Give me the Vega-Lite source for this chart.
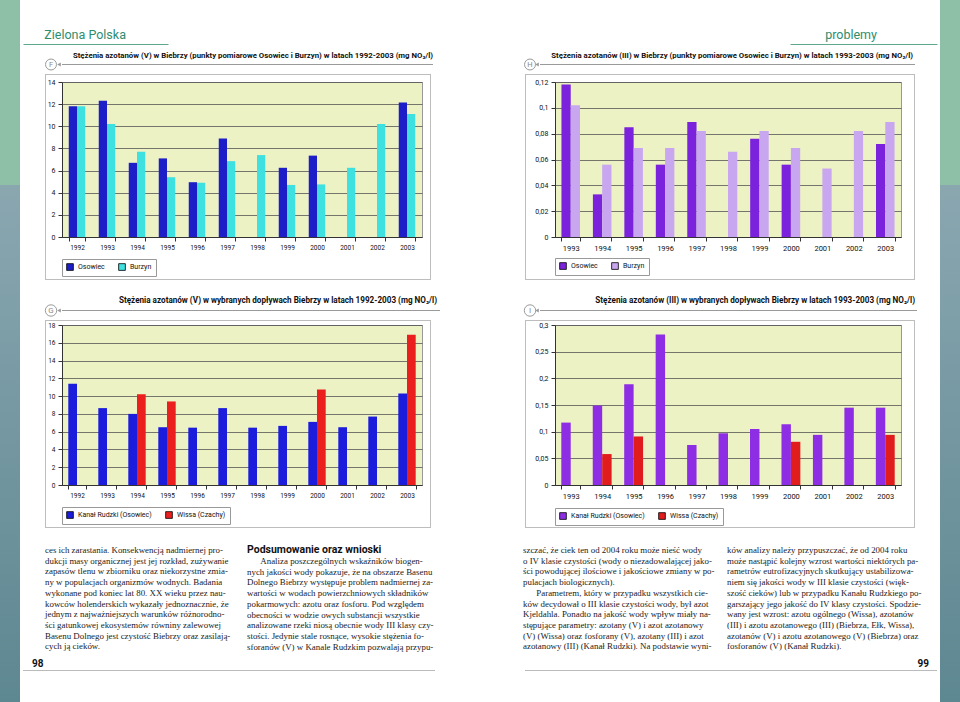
{
"$schema": "https://vega.github.io/schema/vega-lite/v6.json",
"padding": 0,
"background": "#ffffff",
"columns": 25,
"spacing": 0,
"align": "none",
"bounds": "flush",
"resolve": {"scale": {"color": "independent", "xOffset": "independent"}, "legend": {"color": "independent"}},
"config": {
 "view": {"stroke": null},
 "font": "Roboto",
 "axis": {"labelFont": "Roboto", "labelColor": "#111111", "domainColor": "#333333", "tickColor": "#333333", "tickSize": 4, "labelPadding": 3},
 "legend": {"symbolType": "square", "symbolSize": 45, "symbolStrokeColor": "#000000", "symbolStrokeWidth": 0.8, "labelFontSize": 7, "labelFont": "Roboto", "labelColor": "#111111", "strokeColor": "#999999", "padding": 4, "columnPadding": 12, "labelLimit": 300},
 "title": {"font": "Roboto", "color": "#111111", "fontWeight": "bold"}
},
"datasets": {
 "F": [
  {"year":1992,"station":"Osowiec","value":11.8},{"year":1992,"station":"Burzyn","value":11.8},
  {"year":1993,"station":"Osowiec","value":12.3},{"year":1993,"station":"Burzyn","value":10.2},
  {"year":1994,"station":"Osowiec","value":6.7},{"year":1994,"station":"Burzyn","value":7.7},
  {"year":1995,"station":"Osowiec","value":7.1},{"year":1995,"station":"Burzyn","value":5.4},
  {"year":1996,"station":"Osowiec","value":4.95},{"year":1996,"station":"Burzyn","value":4.9},
  {"year":1997,"station":"Osowiec","value":8.9},{"year":1997,"station":"Burzyn","value":6.85},
  {"year":1998,"station":"Burzyn","value":7.4},
  {"year":1999,"station":"Osowiec","value":6.25},{"year":1999,"station":"Burzyn","value":4.7},
  {"year":2000,"station":"Osowiec","value":7.35},{"year":2000,"station":"Burzyn","value":4.75},
  {"year":2001,"station":"Burzyn","value":6.25},
  {"year":2002,"station":"Burzyn","value":10.2},
  {"year":2003,"station":"Osowiec","value":12.15},{"year":2003,"station":"Burzyn","value":11.1}
 ],
 "H": [
  {"year":1993,"station":"Osowiec","value":0.118},{"year":1993,"station":"Burzyn","value":0.102},
  {"year":1994,"station":"Osowiec","value":0.033},{"year":1994,"station":"Burzyn","value":0.056},
  {"year":1995,"station":"Osowiec","value":0.085},{"year":1995,"station":"Burzyn","value":0.069},
  {"year":1996,"station":"Osowiec","value":0.056},{"year":1996,"station":"Burzyn","value":0.069},
  {"year":1997,"station":"Osowiec","value":0.089},{"year":1997,"station":"Burzyn","value":0.082},
  {"year":1998,"station":"Burzyn","value":0.066},
  {"year":1999,"station":"Osowiec","value":0.076},{"year":1999,"station":"Burzyn","value":0.082},
  {"year":2000,"station":"Osowiec","value":0.056},{"year":2000,"station":"Burzyn","value":0.069},
  {"year":2001,"station":"Burzyn","value":0.053},
  {"year":2002,"station":"Burzyn","value":0.082},
  {"year":2003,"station":"Osowiec","value":0.072},{"year":2003,"station":"Burzyn","value":0.089}
 ],
 "G": [
  {"year":1992,"station":"Kanał Rudzki (Osowiec)","value":11.4},
  {"year":1993,"station":"Kanał Rudzki (Osowiec)","value":8.65},
  {"year":1994,"station":"Kanał Rudzki (Osowiec)","value":8.0},{"year":1994,"station":"Wissa (Czachy)","value":10.2},
  {"year":1995,"station":"Kanał Rudzki (Osowiec)","value":6.5},{"year":1995,"station":"Wissa (Czachy)","value":9.4},
  {"year":1996,"station":"Kanał Rudzki (Osowiec)","value":6.45},
  {"year":1997,"station":"Kanał Rudzki (Osowiec)","value":8.65},
  {"year":1998,"station":"Kanał Rudzki (Osowiec)","value":6.45},
  {"year":1999,"station":"Kanał Rudzki (Osowiec)","value":6.65},
  {"year":2000,"station":"Kanał Rudzki (Osowiec)","value":7.1},{"year":2000,"station":"Wissa (Czachy)","value":10.75},
  {"year":2001,"station":"Kanał Rudzki (Osowiec)","value":6.5},
  {"year":2002,"station":"Kanał Rudzki (Osowiec)","value":7.7},
  {"year":2003,"station":"Kanał Rudzki (Osowiec)","value":10.3},{"year":2003,"station":"Wissa (Czachy)","value":16.9}
 ],
 "I": [
  {"year":1993,"station":"Kanał Rudzki (Osowiec)","value":0.117},
  {"year":1994,"station":"Kanał Rudzki (Osowiec)","value":0.149},{"year":1994,"station":"Wissa (Czachy)","value":0.058},
  {"year":1995,"station":"Kanał Rudzki (Osowiec)","value":0.189},{"year":1995,"station":"Wissa (Czachy)","value":0.091},
  {"year":1996,"station":"Kanał Rudzki (Osowiec)","value":0.282},
  {"year":1997,"station":"Kanał Rudzki (Osowiec)","value":0.075},
  {"year":1998,"station":"Kanał Rudzki (Osowiec)","value":0.097},
  {"year":1999,"station":"Kanał Rudzki (Osowiec)","value":0.105},
  {"year":2000,"station":"Kanał Rudzki (Osowiec)","value":0.114},{"year":2000,"station":"Wissa (Czachy)","value":0.081},
  {"year":2001,"station":"Kanał Rudzki (Osowiec)","value":0.094},
  {"year":2002,"station":"Kanał Rudzki (Osowiec)","value":0.145},
  {"year":2003,"station":"Kanał Rudzki (Osowiec)","value":0.145},{"year":2003,"station":"Wissa (Czachy)","value":0.094}
 ]
},
"concat": [
{"width":20,"height":44,"data":{"values":[]},"mark":"point","view":{"fill":"#8ebfa7"}},
{"width":3,"height":44,"data":{"values":[]},"mark":"point"},
{"width":22,"height":44,"data":{"values":[]},"mark":"point"},
{"width":1,"height":44,"data":{"values":[]},"mark":"point"},
{"width":10,"height":44,"data":{"values":[]},"mark":"point"},
{"width":6,"height":44,"data":{"values":[]},"mark":"point"},
{"width":360,"height":44,"data":{"values":[]},"mark":"point"},
{"width":8,"height":44,"data":{"values":[]},"mark":"point"},
{"width":1,"height":44,"data":{"values":[]},"mark":"point"},
{"width":2,"height":44,"data":{"values":[]},"mark":"point"},
{"width":2,"height":44,"data":{"values":[]},"mark":"point"},
{"width":5,"height":44,"data":{"values":[]},"mark":"point"},
{"width":83,"height":44,"data":{"values":[]},"mark":"point"},
{"width":2,"height":44,"data":{"values":[]},"mark":"point"},
{"width":1,"height":44,"data":{"values":[]},"mark":"point"},
{"width":8,"height":44,"data":{"values":[]},"mark":"point"},
{"width":6,"height":44,"data":{"values":[]},"mark":"point"},
{"width":15,"height":44,"data":{"values":[]},"mark":"point"},
{"width":346,"height":44,"data":{"values":[]},"mark":"point"},
{"width":13,"height":44,"data":{"values":[]},"mark":"point"},
{"width":1,"height":44,"data":{"values":[]},"mark":"point"},
{"width":2,"height":44,"data":{"values":[]},"mark":"point"},
{"width":20,"height":44,"data":{"values":[]},"mark":"point"},
{"width":3,"height":44,"data":{"values":[]},"mark":"point"},
{"width":20,"height":44,"data":{"values":[]},"mark":"point","view":{"fill":"#8ebfa7"}},

{"width":20,"height":1,"data":{"values":[]},"mark":"point","view":{"fill":"#8ebfa7"}},
{"width":3,"height":1,"data":{"values":[]},"mark":"point"},
{"width":22,"height":1,"data":{"values":[{}]},"mark":{"type":"point","opacity":0},"encoding":{"x":{"datum":0,"type":"quantitative","scale":{"domain":[0,1],"range":[0,145]},"axis":{"orient":"top","labels":false,"ticks":false,"grid":false,"title":null,"domainColor":"#5ea88c","domainWidth":1.2}}},"title":{"text":"Zielona Polska","anchor":"start","dx":24,"offset":0,"fontSize":12.5,"fontWeight":"normal","color":"#2e8d6f"}},
{"width":1,"height":1,"data":{"values":[]},"mark":"point"},
{"width":10,"height":1,"data":{"values":[]},"mark":"point"},
{"width":6,"height":1,"data":{"values":[]},"mark":"point"},
{"width":360,"height":1,"data":{"values":[]},"mark":"point"},
{"width":8,"height":1,"data":{"values":[]},"mark":"point"},
{"width":1,"height":1,"data":{"values":[]},"mark":"point"},
{"width":2,"height":1,"data":{"values":[]},"mark":"point"},
{"width":2,"height":1,"data":{"values":[]},"mark":"point"},
{"width":5,"height":1,"data":{"values":[]},"mark":"point"},
{"width":83,"height":1,"data":{"values":[]},"mark":"point"},
{"width":2,"height":1,"data":{"values":[]},"mark":"point"},
{"width":1,"height":1,"data":{"values":[]},"mark":"point"},
{"width":8,"height":1,"data":{"values":[]},"mark":"point"},
{"width":6,"height":1,"data":{"values":[]},"mark":"point"},
{"width":15,"height":1,"data":{"values":[]},"mark":"point"},
{"width":346,"height":1,"data":{"values":[{}]},"mark":{"type":"point","opacity":0},"encoding":{"x":{"datum":0,"type":"quantitative","scale":{"domain":[0,1],"range":[235,382]},"axis":{"orient":"top","labels":false,"ticks":false,"grid":false,"title":null,"domainColor":"#5ea88c","domainWidth":1.2}}},"title":{"text":"problemy","anchor":"end","dx":-24,"offset":0,"fontSize":12.5,"fontWeight":"normal","color":"#2e8d6f"}},
{"width":13,"height":1,"data":{"values":[]},"mark":"point"},
{"width":1,"height":1,"data":{"values":[]},"mark":"point"},
{"width":2,"height":1,"data":{"values":[]},"mark":"point"},
{"width":20,"height":1,"data":{"values":[]},"mark":"point"},
{"width":3,"height":1,"data":{"values":[]},"mark":"point"},
{"width":20,"height":1,"data":{"values":[]},"mark":"point","view":{"fill":"#8ebfa7"}},

{"width":20,"height":19,"data":{"values":[]},"mark":"point","view":{"fill":"#8ebfa7"}},
{"width":3,"height":19,"data":{"values":[]},"mark":"point"},
{"width":22,"height":19,"data":{"values":[]},"mark":"point"},
{"width":1,"height":19,"data":{"values":[]},"mark":"point"},
{"width":10,"height":19,"data":{"values":[]},"mark":"point"},
{"width":6,"height":19,"data":{"values":[]},"mark":"point"},
{"width":360,"height":19,"data":{"values":[]},"mark":"point"},
{"width":8,"height":19,"data":{"values":[]},"mark":"point"},
{"width":1,"height":19,"data":{"values":[]},"mark":"point"},
{"width":2,"height":19,"data":{"values":[]},"mark":"point"},
{"width":2,"height":19,"data":{"values":[]},"mark":"point"},
{"width":5,"height":19,"data":{"values":[]},"mark":"point"},
{"width":83,"height":19,"data":{"values":[]},"mark":"point"},
{"width":2,"height":19,"data":{"values":[]},"mark":"point"},
{"width":1,"height":19,"data":{"values":[]},"mark":"point"},
{"width":8,"height":19,"data":{"values":[]},"mark":"point"},
{"width":6,"height":19,"data":{"values":[]},"mark":"point"},
{"width":15,"height":19,"data":{"values":[]},"mark":"point"},
{"width":346,"height":19,"data":{"values":[]},"mark":"point"},
{"width":13,"height":19,"data":{"values":[]},"mark":"point"},
{"width":1,"height":19,"data":{"values":[]},"mark":"point"},
{"width":2,"height":19,"data":{"values":[]},"mark":"point"},
{"width":20,"height":19,"data":{"values":[]},"mark":"point"},
{"width":3,"height":19,"data":{"values":[]},"mark":"point"},
{"width":20,"height":19,"data":{"values":[]},"mark":"point","view":{"fill":"#8ebfa7"}},

{"width":20,"height":1,"data":{"values":[]},"mark":"point","view":{"fill":"#8ebfa7"}},
{"width":3,"height":1,"data":{"values":[]},"mark":"point"},
{"width":22,"height":1,"data":{"values":[]},"mark":"point"},
{"width":1,"height":1,"data":{"values":[]},"mark":"point"},
{"width":10,"height":1,"data":{"values":[{"letter":"F"}]},"layer":[{"mark":{"type":"point","shape":"circle","size":120,"filled":false,"color":"#9a9a9a","strokeWidth":1,"opacity":1},"encoding":{}},{"mark":{"type":"text","fontSize":7.5,"color":"#8a8a8a","align":"center","baseline":"middle","font":"Roboto"},"encoding":{"text":{"field":"letter"}}}]},
{"width":6,"height":1,"data":{"values":[{}]},"mark":{"type":"point","shape":"triangle-left","size":18,"filled":true,"color":"#9a9a9a","opacity":1}},
{"width":360,"height":1,"data":{"values":[]},"mark":"point","view":{"fill":"#9a9a9a"},"title":{"text":"Stężenia azotanów (V) w Biebrzy (punkty pomiarowe Osowiec i Burzyn) w latach 1992-2003 (mg NO₃/l)","anchor":"end","frame":"group","dx":11,"offset":4,"fontSize":7.8}},
{"width":8,"height":1,"data":{"values":[]},"mark":"point","view":{"fill":"#9a9a9a"}},
{"width":1,"height":1,"data":{"values":[]},"mark":"point","view":{"fill":"#9a9a9a"}},
{"width":2,"height":1,"data":{"values":[]},"mark":"point","view":{"fill":"#9a9a9a"}},
{"width":2,"height":1,"data":{"values":[]},"mark":"point"},
{"width":5,"height":1,"data":{"values":[]},"mark":"point"},
{"width":83,"height":1,"data":{"values":[]},"mark":"point"},
{"width":2,"height":1,"data":{"values":[]},"mark":"point"},
{"width":1,"height":1,"data":{"values":[]},"mark":"point"},
{"width":8,"height":1,"data":{"values":[{"letter":"H"}]},"layer":[{"mark":{"type":"point","shape":"circle","size":120,"filled":false,"color":"#9a9a9a","strokeWidth":1,"opacity":1},"encoding":{}},{"mark":{"type":"text","fontSize":7.5,"color":"#8a8a8a","align":"center","baseline":"middle","font":"Roboto"},"encoding":{"text":{"field":"letter"}}}]},
{"width":6,"height":1,"data":{"values":[{}]},"mark":{"type":"point","shape":"triangle-left","size":18,"filled":true,"color":"#9a9a9a","opacity":1}},
{"width":15,"height":1,"data":{"values":[]},"mark":"point","view":{"fill":"#9a9a9a"}},
{"width":346,"height":1,"data":{"values":[]},"mark":"point","view":{"fill":"#9a9a9a"},"title":{"text":"Stężenia azotanów (III) w Biebrzy (punkty pomiarowe Osowiec i Burzyn) w latach 1993-2003 (mg NO₂/l)","anchor":"end","frame":"group","dx":12,"offset":4,"fontSize":7.8}},
{"width":13,"height":1,"data":{"values":[]},"mark":"point","view":{"fill":"#9a9a9a"}},
{"width":1,"height":1,"data":{"values":[]},"mark":"point","view":{"fill":"#9a9a9a"}},
{"width":2,"height":1,"data":{"values":[]},"mark":"point"},
{"width":20,"height":1,"data":{"values":[]},"mark":"point"},
{"width":3,"height":1,"data":{"values":[]},"mark":"point"},
{"width":20,"height":1,"data":{"values":[]},"mark":"point","view":{"fill":"#8ebfa7"}},

{"width":20,"height":9,"data":{"values":[]},"mark":"point","view":{"fill":"#8ebfa7"}},
{"width":3,"height":9,"data":{"values":[]},"mark":"point"},
{"width":22,"height":9,"data":{"values":[]},"mark":"point"},
{"width":1,"height":9,"data":{"values":[]},"mark":"point"},
{"width":10,"height":9,"data":{"values":[]},"mark":"point"},
{"width":6,"height":9,"data":{"values":[]},"mark":"point"},
{"width":360,"height":9,"data":{"values":[]},"mark":"point"},
{"width":8,"height":9,"data":{"values":[]},"mark":"point"},
{"width":1,"height":9,"data":{"values":[]},"mark":"point"},
{"width":2,"height":9,"data":{"values":[]},"mark":"point"},
{"width":2,"height":9,"data":{"values":[]},"mark":"point"},
{"width":5,"height":9,"data":{"values":[]},"mark":"point"},
{"width":83,"height":9,"data":{"values":[]},"mark":"point"},
{"width":2,"height":9,"data":{"values":[]},"mark":"point"},
{"width":1,"height":9,"data":{"values":[]},"mark":"point"},
{"width":8,"height":9,"data":{"values":[]},"mark":"point"},
{"width":6,"height":9,"data":{"values":[]},"mark":"point"},
{"width":15,"height":9,"data":{"values":[]},"mark":"point"},
{"width":346,"height":9,"data":{"values":[]},"mark":"point"},
{"width":13,"height":9,"data":{"values":[]},"mark":"point"},
{"width":1,"height":9,"data":{"values":[]},"mark":"point"},
{"width":2,"height":9,"data":{"values":[]},"mark":"point"},
{"width":20,"height":9,"data":{"values":[]},"mark":"point"},
{"width":3,"height":9,"data":{"values":[]},"mark":"point"},
{"width":20,"height":9,"data":{"values":[]},"mark":"point","view":{"fill":"#8ebfa7"}},

{"width":20,"height":1,"data":{"values":[]},"mark":"point","view":{"fill":"#8ebfa7"}},
{"width":3,"height":1,"data":{"values":[]},"mark":"point"},
{"width":22,"height":1,"data":{"values":[]},"mark":"point"},
{"width":1,"height":1,"data":{"values":[]},"mark":"point","view":{"fill":"#bdbdbd"}},
{"width":10,"height":1,"data":{"values":[]},"mark":"point","view":{"fill":"#bdbdbd"}},
{"width":6,"height":1,"data":{"values":[]},"mark":"point","view":{"fill":"#bdbdbd"}},
{"width":360,"height":1,"data":{"values":[]},"mark":"point","view":{"fill":"#bdbdbd"}},
{"width":8,"height":1,"data":{"values":[]},"mark":"point","view":{"fill":"#bdbdbd"}},
{"width":1,"height":1,"data":{"values":[]},"mark":"point","view":{"fill":"#bdbdbd"}},
{"width":2,"height":1,"data":{"values":[]},"mark":"point"},
{"width":2,"height":1,"data":{"values":[]},"mark":"point"},
{"width":5,"height":1,"data":{"values":[]},"mark":"point"},
{"width":83,"height":1,"data":{"values":[]},"mark":"point"},
{"width":2,"height":1,"data":{"values":[]},"mark":"point"},
{"width":1,"height":1,"data":{"values":[]},"mark":"point","view":{"fill":"#bdbdbd"}},
{"width":8,"height":1,"data":{"values":[]},"mark":"point","view":{"fill":"#bdbdbd"}},
{"width":6,"height":1,"data":{"values":[]},"mark":"point","view":{"fill":"#bdbdbd"}},
{"width":15,"height":1,"data":{"values":[]},"mark":"point","view":{"fill":"#bdbdbd"}},
{"width":346,"height":1,"data":{"values":[]},"mark":"point","view":{"fill":"#bdbdbd"}},
{"width":13,"height":1,"data":{"values":[]},"mark":"point","view":{"fill":"#bdbdbd"}},
{"width":1,"height":1,"data":{"values":[]},"mark":"point","view":{"fill":"#bdbdbd"}},
{"width":2,"height":1,"data":{"values":[]},"mark":"point"},
{"width":20,"height":1,"data":{"values":[]},"mark":"point"},
{"width":3,"height":1,"data":{"values":[]},"mark":"point"},
{"width":20,"height":1,"data":{"values":[]},"mark":"point","view":{"fill":"#8ebfa7"}},

{"width":20,"height":7,"data":{"values":[]},"mark":"point","view":{"fill":"#8ebfa7"}},
{"width":3,"height":7,"data":{"values":[]},"mark":"point"},
{"width":22,"height":7,"data":{"values":[]},"mark":"point"},
{"width":1,"height":7,"data":{"values":[]},"mark":"point","view":{"fill":"#bdbdbd"}},
{"width":10,"height":7,"data":{"values":[]},"mark":"point"},
{"width":6,"height":7,"data":{"values":[]},"mark":"point"},
{"width":360,"height":7,"data":{"values":[]},"mark":"point"},
{"width":8,"height":7,"data":{"values":[]},"mark":"point"},
{"width":1,"height":7,"data":{"values":[]},"mark":"point","view":{"fill":"#bdbdbd"}},
{"width":2,"height":7,"data":{"values":[]},"mark":"point"},
{"width":2,"height":7,"data":{"values":[]},"mark":"point"},
{"width":5,"height":7,"data":{"values":[]},"mark":"point"},
{"width":83,"height":7,"data":{"values":[]},"mark":"point"},
{"width":2,"height":7,"data":{"values":[]},"mark":"point"},
{"width":1,"height":7,"data":{"values":[]},"mark":"point","view":{"fill":"#bdbdbd"}},
{"width":8,"height":7,"data":{"values":[]},"mark":"point"},
{"width":6,"height":7,"data":{"values":[]},"mark":"point"},
{"width":15,"height":7,"data":{"values":[]},"mark":"point"},
{"width":346,"height":7,"data":{"values":[]},"mark":"point"},
{"width":13,"height":7,"data":{"values":[]},"mark":"point"},
{"width":1,"height":7,"data":{"values":[]},"mark":"point","view":{"fill":"#bdbdbd"}},
{"width":2,"height":7,"data":{"values":[]},"mark":"point"},
{"width":20,"height":7,"data":{"values":[]},"mark":"point"},
{"width":3,"height":7,"data":{"values":[]},"mark":"point"},
{"width":20,"height":7,"data":{"values":[]},"mark":"point","view":{"fill":"#8ebfa7"}},

{"width":20,"height":155,"data":{"values":[{}]},"mark":{"type":"rect","color":{"gradient":"linear","x1":0,"y1":0,"x2":0,"y2":1,"stops":[{"offset":0,"color":"#8ebfa7"},{"offset":0.664,"color":"#8ebfa7"},{"offset":0.665,"color":"#8aa7b0"},{"offset":1,"color":"#86a4ad"}]}}},
{"width":3,"height":155,"data":{"values":[]},"mark":"point"},
{"width":22,"height":155,"data":{"values":[]},"mark":"point"},
{"width":1,"height":155,"data":{"values":[]},"mark":"point","view":{"fill":"#bdbdbd"}},
{"width":10,"height":155,"data":{"values":[]},"mark":"point"},
{"width":6,"height":155,"data":{"values":[]},"mark":"point"},
{"width":360,"height":155,"data":{"name":"F"},"mark":{"type":"bar"},
 "encoding":{
  "x":{"field":"year","type":"ordinal","scale":{"paddingInner":0.45,"paddingOuter":0.225},"axis":{"title":null,"labelAngle":0,"labelFontSize":6.5,"tickBand":"extent","grid":false}},
  "xOffset":{"field":"station","type":"nominal","scale":{"domain":["Osowiec","Burzyn"]}},
  "y":{"field":"value","type":"quantitative","scale":{"domain":[0,14]},"axis":{"title":null,"values":[0,2,4,6,8,10,12,14],"grid":true,"gridColor":"#555555","gridWidth":0.8,"labelFontSize":7}},
  "color":{"field":"station","type":"nominal","scale":{"domain":["Osowiec","Burzyn"],"range":["#1e1ec8","#3fe0e0"]},"legend":{"orient":"bottom","direction":"horizontal","title":null,"offset":8}}
 },
 "view":{"fill":"#ecf2c4","stroke":"#999999"}},
{"width":8,"height":155,"data":{"values":[]},"mark":"point"},
{"width":1,"height":155,"data":{"values":[]},"mark":"point","view":{"fill":"#bdbdbd"}},
{"width":2,"height":155,"data":{"values":[]},"mark":"point"},
{"width":2,"height":155,"data":{"values":[]},"mark":"point"},
{"width":5,"height":155,"data":{"values":[]},"mark":"point"},
{"width":83,"height":155,"data":{"values":[]},"mark":"point"},
{"width":2,"height":155,"data":{"values":[]},"mark":"point"},
{"width":1,"height":155,"data":{"values":[]},"mark":"point","view":{"fill":"#bdbdbd"}},
{"width":8,"height":155,"data":{"values":[]},"mark":"point"},
{"width":6,"height":155,"data":{"values":[]},"mark":"point"},
{"width":15,"height":155,"data":{"values":[]},"mark":"point"},
{"width":346,"height":155,"data":{"name":"H"},"mark":{"type":"bar"},
 "encoding":{
  "x":{"field":"year","type":"ordinal","scale":{"paddingInner":0.41,"paddingOuter":0.205},"axis":{"title":null,"labelAngle":0,"labelFontSize":7.5,"tickBand":"extent","grid":false}},
  "xOffset":{"field":"station","type":"nominal","scale":{"domain":["Osowiec","Burzyn"]}},
  "y":{"field":"value","type":"quantitative","scale":{"domain":[0,0.12]},"axis":{"title":null,"values":[0,0.02,0.04,0.06,0.08,0.1,0.12],"labelExpr":"replace(format(datum.value, '~g'), '.', ',')","grid":true,"gridColor":"#555555","gridWidth":0.8,"labelFontSize":7}},
  "color":{"field":"station","type":"nominal","scale":{"domain":["Osowiec","Burzyn"],"range":["#7a22dc","#c8a6f0"]},"legend":{"orient":"bottom","direction":"horizontal","title":null,"offset":6}}
 },
 "view":{"fill":"#ecf2c4","stroke":"#999999"}},
{"width":13,"height":155,"data":{"values":[]},"mark":"point"},
{"width":1,"height":155,"data":{"values":[]},"mark":"point","view":{"fill":"#bdbdbd"}},
{"width":2,"height":155,"data":{"values":[]},"mark":"point"},
{"width":20,"height":155,"data":{"values":[]},"mark":"point"},
{"width":3,"height":155,"data":{"values":[]},"mark":"point"},
{"width":20,"height":155,"data":{"values":[{}]},"mark":{"type":"rect","color":{"gradient":"linear","x1":0,"y1":0,"x2":0,"y2":1,"stops":[{"offset":0,"color":"#8ebfa7"},{"offset":0.664,"color":"#8ebfa7"},{"offset":0.665,"color":"#8aa7b0"},{"offset":1,"color":"#86a4ad"}]}}},

{"width":20,"height":42,"data":{"values":[{}]},"mark":{"type":"rect","color":{"gradient":"linear","x1":0,"y1":0,"x2":0,"y2":1,"stops":[{"offset":0,"color":"#86a4ad"},{"offset":1,"color":"#82a1aa"}]}}},
{"width":3,"height":42,"data":{"values":[]},"mark":"point"},
{"width":22,"height":42,"data":{"values":[]},"mark":"point"},
{"width":1,"height":42,"data":{"values":[]},"mark":"point","view":{"fill":"#bdbdbd"}},
{"width":10,"height":42,"data":{"values":[]},"mark":"point"},
{"width":6,"height":42,"data":{"values":[]},"mark":"point"},
{"width":360,"height":42,"data":{"values":[]},"mark":"point"},
{"width":8,"height":42,"data":{"values":[]},"mark":"point"},
{"width":1,"height":42,"data":{"values":[]},"mark":"point","view":{"fill":"#bdbdbd"}},
{"width":2,"height":42,"data":{"values":[]},"mark":"point"},
{"width":2,"height":42,"data":{"values":[]},"mark":"point"},
{"width":5,"height":42,"data":{"values":[]},"mark":"point"},
{"width":83,"height":42,"data":{"values":[]},"mark":"point"},
{"width":2,"height":42,"data":{"values":[]},"mark":"point"},
{"width":1,"height":42,"data":{"values":[]},"mark":"point","view":{"fill":"#bdbdbd"}},
{"width":8,"height":42,"data":{"values":[]},"mark":"point"},
{"width":6,"height":42,"data":{"values":[]},"mark":"point"},
{"width":15,"height":42,"data":{"values":[]},"mark":"point"},
{"width":346,"height":42,"data":{"values":[]},"mark":"point"},
{"width":13,"height":42,"data":{"values":[]},"mark":"point"},
{"width":1,"height":42,"data":{"values":[]},"mark":"point","view":{"fill":"#bdbdbd"}},
{"width":2,"height":42,"data":{"values":[]},"mark":"point"},
{"width":20,"height":42,"data":{"values":[]},"mark":"point"},
{"width":3,"height":42,"data":{"values":[]},"mark":"point"},
{"width":20,"height":42,"data":{"values":[{}]},"mark":{"type":"rect","color":{"gradient":"linear","x1":0,"y1":0,"x2":0,"y2":1,"stops":[{"offset":0,"color":"#86a4ad"},{"offset":1,"color":"#82a1aa"}]}}},

{"width":20,"height":1,"data":{"values":[]},"mark":"point","view":{"fill":"#82a1aa"}},
{"width":3,"height":1,"data":{"values":[]},"mark":"point"},
{"width":22,"height":1,"data":{"values":[]},"mark":"point"},
{"width":1,"height":1,"data":{"values":[]},"mark":"point","view":{"fill":"#bdbdbd"}},
{"width":10,"height":1,"data":{"values":[]},"mark":"point","view":{"fill":"#bdbdbd"}},
{"width":6,"height":1,"data":{"values":[]},"mark":"point","view":{"fill":"#bdbdbd"}},
{"width":360,"height":1,"data":{"values":[]},"mark":"point","view":{"fill":"#bdbdbd"}},
{"width":8,"height":1,"data":{"values":[]},"mark":"point","view":{"fill":"#bdbdbd"}},
{"width":1,"height":1,"data":{"values":[]},"mark":"point","view":{"fill":"#bdbdbd"}},
{"width":2,"height":1,"data":{"values":[]},"mark":"point"},
{"width":2,"height":1,"data":{"values":[]},"mark":"point"},
{"width":5,"height":1,"data":{"values":[]},"mark":"point"},
{"width":83,"height":1,"data":{"values":[]},"mark":"point"},
{"width":2,"height":1,"data":{"values":[]},"mark":"point"},
{"width":1,"height":1,"data":{"values":[]},"mark":"point","view":{"fill":"#bdbdbd"}},
{"width":8,"height":1,"data":{"values":[]},"mark":"point","view":{"fill":"#bdbdbd"}},
{"width":6,"height":1,"data":{"values":[]},"mark":"point","view":{"fill":"#bdbdbd"}},
{"width":15,"height":1,"data":{"values":[]},"mark":"point","view":{"fill":"#bdbdbd"}},
{"width":346,"height":1,"data":{"values":[]},"mark":"point","view":{"fill":"#bdbdbd"}},
{"width":13,"height":1,"data":{"values":[]},"mark":"point","view":{"fill":"#bdbdbd"}},
{"width":1,"height":1,"data":{"values":[]},"mark":"point","view":{"fill":"#bdbdbd"}},
{"width":2,"height":1,"data":{"values":[]},"mark":"point"},
{"width":20,"height":1,"data":{"values":[]},"mark":"point"},
{"width":3,"height":1,"data":{"values":[]},"mark":"point"},
{"width":20,"height":1,"data":{"values":[]},"mark":"point","view":{"fill":"#82a1aa"}},

{"width":20,"height":30,"data":{"values":[{}]},"mark":{"type":"rect","color":{"gradient":"linear","x1":0,"y1":0,"x2":0,"y2":1,"stops":[{"offset":0,"color":"#82a1aa"},{"offset":1,"color":"#7f9fa9"}]}}},
{"width":3,"height":30,"data":{"values":[]},"mark":"point"},
{"width":22,"height":30,"data":{"values":[]},"mark":"point"},
{"width":1,"height":30,"data":{"values":[]},"mark":"point"},
{"width":10,"height":30,"data":{"values":[]},"mark":"point"},
{"width":6,"height":30,"data":{"values":[]},"mark":"point"},
{"width":360,"height":30,"data":{"values":[]},"mark":"point"},
{"width":8,"height":30,"data":{"values":[]},"mark":"point"},
{"width":1,"height":30,"data":{"values":[]},"mark":"point"},
{"width":2,"height":30,"data":{"values":[]},"mark":"point"},
{"width":2,"height":30,"data":{"values":[]},"mark":"point"},
{"width":5,"height":30,"data":{"values":[]},"mark":"point"},
{"width":83,"height":30,"data":{"values":[]},"mark":"point"},
{"width":2,"height":30,"data":{"values":[]},"mark":"point"},
{"width":1,"height":30,"data":{"values":[]},"mark":"point"},
{"width":8,"height":30,"data":{"values":[]},"mark":"point"},
{"width":6,"height":30,"data":{"values":[]},"mark":"point"},
{"width":15,"height":30,"data":{"values":[]},"mark":"point"},
{"width":346,"height":30,"data":{"values":[]},"mark":"point"},
{"width":13,"height":30,"data":{"values":[]},"mark":"point"},
{"width":1,"height":30,"data":{"values":[]},"mark":"point"},
{"width":2,"height":30,"data":{"values":[]},"mark":"point"},
{"width":20,"height":30,"data":{"values":[]},"mark":"point"},
{"width":3,"height":30,"data":{"values":[]},"mark":"point"},
{"width":20,"height":30,"data":{"values":[{}]},"mark":{"type":"rect","color":{"gradient":"linear","x1":0,"y1":0,"x2":0,"y2":1,"stops":[{"offset":0,"color":"#82a1aa"},{"offset":1,"color":"#7f9fa9"}]}}},

{"width":20,"height":1,"data":{"values":[]},"mark":"point","view":{"fill":"#7f9fa9"}},
{"width":3,"height":1,"data":{"values":[]},"mark":"point"},
{"width":22,"height":1,"data":{"values":[]},"mark":"point"},
{"width":1,"height":1,"data":{"values":[]},"mark":"point"},
{"width":10,"height":1,"data":{"values":[{"letter":"G"}]},"layer":[{"mark":{"type":"point","shape":"circle","size":130,"filled":false,"color":"#9a9a9a","strokeWidth":1,"opacity":1},"encoding":{}},{"mark":{"type":"text","fontSize":8,"color":"#8a8a8a","align":"center","baseline":"middle","font":"Roboto"},"encoding":{"text":{"field":"letter"}}}]},
{"width":6,"height":1,"data":{"values":[{}]},"mark":{"type":"point","shape":"triangle-left","size":18,"filled":true,"color":"#9a9a9a","opacity":1}},
{"width":360,"height":1,"data":{"values":[]},"mark":"point","view":{"fill":"#9a9a9a"},"title":{"text":"Stężenia azotanów (V) w wybranych dopływach Biebrzy w latach 1992-2003 (mg NO₃/l)","anchor":"end","frame":"group","dx":15,"offset":5,"fontSize":8.15}},
{"width":8,"height":1,"data":{"values":[]},"mark":"point","view":{"fill":"#9a9a9a"}},
{"width":1,"height":1,"data":{"values":[]},"mark":"point","view":{"fill":"#9a9a9a"}},
{"width":2,"height":1,"data":{"values":[]},"mark":"point","view":{"fill":"#9a9a9a"}},
{"width":2,"height":1,"data":{"values":[]},"mark":"point","view":{"fill":"#9a9a9a"}},
{"width":5,"height":1,"data":{"values":[]},"mark":"point","view":{"fill":"#9a9a9a"}},
{"width":83,"height":1,"data":{"values":[]},"mark":"point"},
{"width":2,"height":1,"data":{"values":[]},"mark":"point"},
{"width":1,"height":1,"data":{"values":[]},"mark":"point"},
{"width":8,"height":1,"data":{"values":[{"letter":"I"}]},"layer":[{"mark":{"type":"point","shape":"circle","size":130,"filled":false,"color":"#9a9a9a","strokeWidth":1,"opacity":1},"encoding":{}},{"mark":{"type":"text","fontSize":8,"color":"#8a8a8a","align":"center","baseline":"middle","font":"Roboto"},"encoding":{"text":{"field":"letter"}}}]},
{"width":6,"height":1,"data":{"values":[{}]},"mark":{"type":"point","shape":"triangle-left","size":18,"filled":true,"color":"#9a9a9a","opacity":1}},
{"width":15,"height":1,"data":{"values":[]},"mark":"point","view":{"fill":"#9a9a9a"}},
{"width":346,"height":1,"data":{"values":[]},"mark":"point","view":{"fill":"#9a9a9a"},"title":{"text":"Stężenia azotanów (III) w wybranych dopływach Biebrzy w latach 1993-2003 (mg NO₂/l)","anchor":"end","frame":"group","dx":14,"offset":5,"fontSize":8.15}},
{"width":13,"height":1,"data":{"values":[]},"mark":"point","view":{"fill":"#9a9a9a"}},
{"width":1,"height":1,"data":{"values":[]},"mark":"point","view":{"fill":"#9a9a9a"}},
{"width":2,"height":1,"data":{"values":[]},"mark":"point","view":{"fill":"#9a9a9a"}},
{"width":20,"height":1,"data":{"values":[]},"mark":"point"},
{"width":3,"height":1,"data":{"values":[]},"mark":"point"},
{"width":20,"height":1,"data":{"values":[]},"mark":"point","view":{"fill":"#7f9fa9"}},

{"width":20,"height":9,"data":{"values":[{}]},"mark":{"type":"rect","color":{"gradient":"linear","x1":0,"y1":0,"x2":0,"y2":1,"stops":[{"offset":0,"color":"#7f9fa9"},{"offset":1,"color":"#7e9fa8"}]}}},
{"width":3,"height":9,"data":{"values":[]},"mark":"point"},
{"width":22,"height":9,"data":{"values":[]},"mark":"point"},
{"width":1,"height":9,"data":{"values":[]},"mark":"point"},
{"width":10,"height":9,"data":{"values":[]},"mark":"point"},
{"width":6,"height":9,"data":{"values":[]},"mark":"point"},
{"width":360,"height":9,"data":{"values":[]},"mark":"point"},
{"width":8,"height":9,"data":{"values":[]},"mark":"point"},
{"width":1,"height":9,"data":{"values":[]},"mark":"point"},
{"width":2,"height":9,"data":{"values":[]},"mark":"point"},
{"width":2,"height":9,"data":{"values":[]},"mark":"point"},
{"width":5,"height":9,"data":{"values":[]},"mark":"point"},
{"width":83,"height":9,"data":{"values":[]},"mark":"point"},
{"width":2,"height":9,"data":{"values":[]},"mark":"point"},
{"width":1,"height":9,"data":{"values":[]},"mark":"point"},
{"width":8,"height":9,"data":{"values":[]},"mark":"point"},
{"width":6,"height":9,"data":{"values":[]},"mark":"point"},
{"width":15,"height":9,"data":{"values":[]},"mark":"point"},
{"width":346,"height":9,"data":{"values":[]},"mark":"point"},
{"width":13,"height":9,"data":{"values":[]},"mark":"point"},
{"width":1,"height":9,"data":{"values":[]},"mark":"point"},
{"width":2,"height":9,"data":{"values":[]},"mark":"point"},
{"width":20,"height":9,"data":{"values":[]},"mark":"point"},
{"width":3,"height":9,"data":{"values":[]},"mark":"point"},
{"width":20,"height":9,"data":{"values":[{}]},"mark":{"type":"rect","color":{"gradient":"linear","x1":0,"y1":0,"x2":0,"y2":1,"stops":[{"offset":0,"color":"#7f9fa9"},{"offset":1,"color":"#7e9fa8"}]}}},

{"width":20,"height":1,"data":{"values":[]},"mark":"point","view":{"fill":"#7e9fa8"}},
{"width":3,"height":1,"data":{"values":[]},"mark":"point"},
{"width":22,"height":1,"data":{"values":[]},"mark":"point"},
{"width":1,"height":1,"data":{"values":[]},"mark":"point","view":{"fill":"#bdbdbd"}},
{"width":10,"height":1,"data":{"values":[]},"mark":"point","view":{"fill":"#bdbdbd"}},
{"width":6,"height":1,"data":{"values":[]},"mark":"point","view":{"fill":"#bdbdbd"}},
{"width":360,"height":1,"data":{"values":[]},"mark":"point","view":{"fill":"#bdbdbd"}},
{"width":8,"height":1,"data":{"values":[]},"mark":"point","view":{"fill":"#bdbdbd"}},
{"width":1,"height":1,"data":{"values":[]},"mark":"point","view":{"fill":"#bdbdbd"}},
{"width":2,"height":1,"data":{"values":[]},"mark":"point"},
{"width":2,"height":1,"data":{"values":[]},"mark":"point"},
{"width":5,"height":1,"data":{"values":[]},"mark":"point"},
{"width":83,"height":1,"data":{"values":[]},"mark":"point"},
{"width":2,"height":1,"data":{"values":[]},"mark":"point"},
{"width":1,"height":1,"data":{"values":[]},"mark":"point","view":{"fill":"#bdbdbd"}},
{"width":8,"height":1,"data":{"values":[]},"mark":"point","view":{"fill":"#bdbdbd"}},
{"width":6,"height":1,"data":{"values":[]},"mark":"point","view":{"fill":"#bdbdbd"}},
{"width":15,"height":1,"data":{"values":[]},"mark":"point","view":{"fill":"#bdbdbd"}},
{"width":346,"height":1,"data":{"values":[]},"mark":"point","view":{"fill":"#bdbdbd"}},
{"width":13,"height":1,"data":{"values":[]},"mark":"point","view":{"fill":"#bdbdbd"}},
{"width":1,"height":1,"data":{"values":[]},"mark":"point","view":{"fill":"#bdbdbd"}},
{"width":2,"height":1,"data":{"values":[]},"mark":"point"},
{"width":20,"height":1,"data":{"values":[]},"mark":"point"},
{"width":3,"height":1,"data":{"values":[]},"mark":"point"},
{"width":20,"height":1,"data":{"values":[]},"mark":"point","view":{"fill":"#7e9fa8"}},

{"width":20,"height":4,"data":{"values":[]},"mark":"point","view":{"fill":"#7e9ea8"}},
{"width":3,"height":4,"data":{"values":[]},"mark":"point"},
{"width":22,"height":4,"data":{"values":[]},"mark":"point"},
{"width":1,"height":4,"data":{"values":[]},"mark":"point","view":{"fill":"#bdbdbd"}},
{"width":10,"height":4,"data":{"values":[]},"mark":"point"},
{"width":6,"height":4,"data":{"values":[]},"mark":"point"},
{"width":360,"height":4,"data":{"values":[]},"mark":"point"},
{"width":8,"height":4,"data":{"values":[]},"mark":"point"},
{"width":1,"height":4,"data":{"values":[]},"mark":"point","view":{"fill":"#bdbdbd"}},
{"width":2,"height":4,"data":{"values":[]},"mark":"point"},
{"width":2,"height":4,"data":{"values":[]},"mark":"point"},
{"width":5,"height":4,"data":{"values":[]},"mark":"point"},
{"width":83,"height":4,"data":{"values":[]},"mark":"point"},
{"width":2,"height":4,"data":{"values":[]},"mark":"point"},
{"width":1,"height":4,"data":{"values":[]},"mark":"point","view":{"fill":"#bdbdbd"}},
{"width":8,"height":4,"data":{"values":[]},"mark":"point"},
{"width":6,"height":4,"data":{"values":[]},"mark":"point"},
{"width":15,"height":4,"data":{"values":[]},"mark":"point"},
{"width":346,"height":4,"data":{"values":[]},"mark":"point"},
{"width":13,"height":4,"data":{"values":[]},"mark":"point"},
{"width":1,"height":4,"data":{"values":[]},"mark":"point","view":{"fill":"#bdbdbd"}},
{"width":2,"height":4,"data":{"values":[]},"mark":"point"},
{"width":20,"height":4,"data":{"values":[]},"mark":"point"},
{"width":3,"height":4,"data":{"values":[]},"mark":"point"},
{"width":20,"height":4,"data":{"values":[]},"mark":"point","view":{"fill":"#7e9ea8"}},

{"width":20,"height":160,"data":{"values":[{}]},"mark":{"type":"rect","color":{"gradient":"linear","x1":0,"y1":0,"x2":0,"y2":1,"stops":[{"offset":0,"color":"#7e9ea8"},{"offset":1,"color":"#70949e"}]}}},
{"width":3,"height":160,"data":{"values":[]},"mark":"point"},
{"width":22,"height":160,"data":{"values":[]},"mark":"point"},
{"width":1,"height":160,"data":{"values":[]},"mark":"point","view":{"fill":"#bdbdbd"}},
{"width":10,"height":160,"data":{"values":[]},"mark":"point"},
{"width":6,"height":160,"data":{"values":[]},"mark":"point"},
{"width":360,"height":160,"data":{"name":"G"},"mark":{"type":"bar"},
 "encoding":{
  "x":{"field":"year","type":"ordinal","scale":{"paddingInner":0.42,"paddingOuter":0.21},"axis":{"title":null,"labelAngle":0,"labelFontSize":6.5,"tickBand":"extent","grid":false}},
  "xOffset":{"field":"station","type":"nominal","scale":{"domain":["Kanał Rudzki (Osowiec)","Wissa (Czachy)"]}},
  "y":{"field":"value","type":"quantitative","scale":{"domain":[0,18]},"axis":{"title":null,"values":[0,2,4,6,8,10,12,14,16,18],"grid":true,"gridColor":"#555555","gridWidth":0.8,"labelFontSize":6.5}},
  "color":{"field":"station","type":"nominal","scale":{"domain":["Kanał Rudzki (Osowiec)","Wissa (Czachy)"],"range":["#1c1cdc","#ec1f1f"]},"legend":{"orient":"bottom","direction":"horizontal","title":null,"offset":8}}
 },
 "view":{"fill":"#ecf2c4","stroke":"#999999"}},
{"width":8,"height":160,"data":{"values":[]},"mark":"point"},
{"width":1,"height":160,"data":{"values":[]},"mark":"point","view":{"fill":"#bdbdbd"}},
{"width":2,"height":160,"data":{"values":[]},"mark":"point"},
{"width":2,"height":160,"data":{"values":[]},"mark":"point"},
{"width":5,"height":160,"data":{"values":[]},"mark":"point"},
{"width":83,"height":160,"data":{"values":[]},"mark":"point"},
{"width":2,"height":160,"data":{"values":[]},"mark":"point"},
{"width":1,"height":160,"data":{"values":[]},"mark":"point","view":{"fill":"#bdbdbd"}},
{"width":8,"height":160,"data":{"values":[]},"mark":"point"},
{"width":6,"height":160,"data":{"values":[]},"mark":"point"},
{"width":15,"height":160,"data":{"values":[]},"mark":"point"},
{"width":346,"height":160,"data":{"name":"I"},"mark":{"type":"bar"},
 "encoding":{
  "x":{"field":"year","type":"ordinal","scale":{"paddingInner":0.4,"paddingOuter":0.2},"axis":{"title":null,"labelAngle":0,"labelFontSize":7.5,"tickBand":"extent","grid":false}},
  "xOffset":{"field":"station","type":"nominal","scale":{"domain":["Kanał Rudzki (Osowiec)","Wissa (Czachy)"]}},
  "y":{"field":"value","type":"quantitative","scale":{"domain":[0,0.3]},"axis":{"title":null,"values":[0,0.05,0.1,0.15,0.2,0.25,0.3],"labelExpr":"replace(format(datum.value, '~g'), '.', ',')","grid":true,"gridColor":"#555555","gridWidth":0.8,"labelFontSize":7}},
  "color":{"field":"station","type":"nominal","scale":{"domain":["Kanał Rudzki (Osowiec)","Wissa (Czachy)"],"range":["#8e2ee4","#e01c1c"]},"legend":{"orient":"bottom","direction":"horizontal","title":null,"offset":8}}
 },
 "view":{"fill":"#ecf2c4","stroke":"#999999"}},
{"width":13,"height":160,"data":{"values":[]},"mark":"point"},
{"width":1,"height":160,"data":{"values":[]},"mark":"point","view":{"fill":"#bdbdbd"}},
{"width":2,"height":160,"data":{"values":[]},"mark":"point"},
{"width":20,"height":160,"data":{"values":[]},"mark":"point"},
{"width":3,"height":160,"data":{"values":[]},"mark":"point"},
{"width":20,"height":160,"data":{"values":[{}]},"mark":{"type":"rect","color":{"gradient":"linear","x1":0,"y1":0,"x2":0,"y2":1,"stops":[{"offset":0,"color":"#7e9ea8"},{"offset":1,"color":"#70949e"}]}}},

{"width":20,"height":42,"data":{"values":[{}]},"mark":{"type":"rect","color":{"gradient":"linear","x1":0,"y1":0,"x2":0,"y2":1,"stops":[{"offset":0,"color":"#70949e"},{"offset":1,"color":"#6c929b"}]}}},
{"width":3,"height":42,"data":{"values":[]},"mark":"point"},
{"width":22,"height":42,"data":{"values":[]},"mark":"point"},
{"width":1,"height":42,"data":{"values":[]},"mark":"point","view":{"fill":"#bdbdbd"}},
{"width":10,"height":42,"data":{"values":[]},"mark":"point"},
{"width":6,"height":42,"data":{"values":[]},"mark":"point"},
{"width":360,"height":42,"data":{"values":[]},"mark":"point"},
{"width":8,"height":42,"data":{"values":[]},"mark":"point"},
{"width":1,"height":42,"data":{"values":[]},"mark":"point","view":{"fill":"#bdbdbd"}},
{"width":2,"height":42,"data":{"values":[]},"mark":"point"},
{"width":2,"height":42,"data":{"values":[]},"mark":"point"},
{"width":5,"height":42,"data":{"values":[]},"mark":"point"},
{"width":83,"height":42,"data":{"values":[]},"mark":"point"},
{"width":2,"height":42,"data":{"values":[]},"mark":"point"},
{"width":1,"height":42,"data":{"values":[]},"mark":"point","view":{"fill":"#bdbdbd"}},
{"width":8,"height":42,"data":{"values":[]},"mark":"point"},
{"width":6,"height":42,"data":{"values":[]},"mark":"point"},
{"width":15,"height":42,"data":{"values":[]},"mark":"point"},
{"width":346,"height":42,"data":{"values":[]},"mark":"point"},
{"width":13,"height":42,"data":{"values":[]},"mark":"point"},
{"width":1,"height":42,"data":{"values":[]},"mark":"point","view":{"fill":"#bdbdbd"}},
{"width":2,"height":42,"data":{"values":[]},"mark":"point"},
{"width":20,"height":42,"data":{"values":[]},"mark":"point"},
{"width":3,"height":42,"data":{"values":[]},"mark":"point"},
{"width":20,"height":42,"data":{"values":[{}]},"mark":{"type":"rect","color":{"gradient":"linear","x1":0,"y1":0,"x2":0,"y2":1,"stops":[{"offset":0,"color":"#70949e"},{"offset":1,"color":"#6c929b"}]}}},

{"width":20,"height":1,"data":{"values":[]},"mark":"point","view":{"fill":"#6c929b"}},
{"width":3,"height":1,"data":{"values":[]},"mark":"point"},
{"width":22,"height":1,"data":{"values":[]},"mark":"point"},
{"width":1,"height":1,"data":{"values":[]},"mark":"point","view":{"fill":"#bdbdbd"}},
{"width":10,"height":1,"data":{"values":[]},"mark":"point","view":{"fill":"#bdbdbd"}},
{"width":6,"height":1,"data":{"values":[]},"mark":"point","view":{"fill":"#bdbdbd"}},
{"width":360,"height":1,"data":{"values":[]},"mark":"point","view":{"fill":"#bdbdbd"}},
{"width":8,"height":1,"data":{"values":[]},"mark":"point","view":{"fill":"#bdbdbd"}},
{"width":1,"height":1,"data":{"values":[]},"mark":"point","view":{"fill":"#bdbdbd"}},
{"width":2,"height":1,"data":{"values":[]},"mark":"point"},
{"width":2,"height":1,"data":{"values":[]},"mark":"point"},
{"width":5,"height":1,"data":{"values":[]},"mark":"point"},
{"width":83,"height":1,"data":{"values":[]},"mark":"point"},
{"width":2,"height":1,"data":{"values":[]},"mark":"point"},
{"width":1,"height":1,"data":{"values":[]},"mark":"point","view":{"fill":"#bdbdbd"}},
{"width":8,"height":1,"data":{"values":[]},"mark":"point","view":{"fill":"#bdbdbd"}},
{"width":6,"height":1,"data":{"values":[]},"mark":"point","view":{"fill":"#bdbdbd"}},
{"width":15,"height":1,"data":{"values":[]},"mark":"point","view":{"fill":"#bdbdbd"}},
{"width":346,"height":1,"data":{"values":[]},"mark":"point","view":{"fill":"#bdbdbd"}},
{"width":13,"height":1,"data":{"values":[]},"mark":"point","view":{"fill":"#bdbdbd"}},
{"width":1,"height":1,"data":{"values":[]},"mark":"point","view":{"fill":"#bdbdbd"}},
{"width":2,"height":1,"data":{"values":[]},"mark":"point"},
{"width":20,"height":1,"data":{"values":[]},"mark":"point"},
{"width":3,"height":1,"data":{"values":[]},"mark":"point"},
{"width":20,"height":1,"data":{"values":[]},"mark":"point","view":{"fill":"#6c929b"}},

{"width":20,"height":18,"data":{"values":[{}]},"mark":{"type":"rect","color":{"gradient":"linear","x1":0,"y1":0,"x2":0,"y2":1,"stops":[{"offset":0,"color":"#6c929b"},{"offset":1,"color":"#6b919a"}]}}},
{"width":3,"height":18,"data":{"values":[]},"mark":"point"},
{"width":22,"height":18,"data":{"values":[]},"mark":"point"},
{"width":1,"height":18,"data":{"values":[]},"mark":"point","title":{"text":["ces ich zarastania. Konsekwencją nadmiernej pro-","dukcji masy organicznej jest jej rozkład, zużywanie","zapasów tlenu w zbiorniku oraz niekorzystne zmia-","ny w populacjach organizmów wodnych. Badania","wykonane pod koniec lat 80. XX wieku przez nau-","kowców holenderskich wykazały jednoznacznie, że","jednym z najważniejszych warunków różnorodno-","ści gatunkowej ekosystemów równiny zalewowej","Basenu Dolnego jest czystość Biebrzy oraz zasilają-","cych ją cieków."],"orient":"bottom","anchor":"start","frame":"group","baseline":"top","offset":0,"font":"Liberation Serif","fontSize":8.9,"fontWeight":"normal","color":"#222222","lineHeight":10.7}},
{"width":10,"height":18,"data":{"values":[]},"mark":"point"},
{"width":6,"height":18,"data":{"values":[]},"mark":"point"},
{"width":360,"height":18,"data":{"values":[]},"mark":"point","title":{"text":"Podsumowanie oraz wnioski","subtitle":["\u200b\u00a0\u00a0\u00a0\u00a0\u00a0\u00a0Analiza poszczególnych wskaźników biogen-","nych jakości wody pokazuje, że na obszarze Basenu","Dolnego Biebrzy występuje problem nadmiernej za-","wartości w wodach powierzchniowych składników","pokarmowych: azotu oraz fosforu. Pod względem","obecności w wodzie owych substancji wszystkie","analizowane rzeki niosą obecnie wody III klasy czy-","stości. Jedynie stale rosnące, wysokie stężenia fo-","sforanów (V) w Kanale Rudzkim pozwalają przypu-"],"orient":"bottom","anchor":"start","frame":"group","baseline":"top","dx":185,"offset":-1,"font":"Roboto","fontSize":10.5,"fontWeight":"bold","color":"#111111","subtitleFont":"Liberation Serif","subtitleFontSize":8.9,"subtitleFontWeight":"normal","subtitleColor":"#222222","subtitleLineHeight":10.7,"subtitlePadding":1.5}},
{"width":8,"height":18,"data":{"values":[]},"mark":"point"},
{"width":1,"height":18,"data":{"values":[]},"mark":"point"},
{"width":2,"height":18,"data":{"values":[]},"mark":"point"},
{"width":2,"height":18,"data":{"values":[]},"mark":"point"},
{"width":5,"height":18,"data":{"values":[]},"mark":"point"},
{"width":83,"height":18,"data":{"values":[]},"mark":"point"},
{"width":2,"height":18,"data":{"values":[]},"mark":"point","title":{"text":["szczać, że ciek ten od 2004 roku może nieść wody","o IV klasie czystości (wody o niezadowalającej jako-","ści powodującej ilościowe i jakościowe zmiany w po-","pulacjach biologicznych).","\u200b\u00a0\u00a0\u00a0\u00a0\u00a0\u00a0Parametrem, który w przypadku wszystkich cie-","ków decydował o III klasie czystości wody, był azot","Kjeldahla. Ponadto na jakość wody wpływ miały na-","stępujące parametry: azotany (V) i azot azotanowy","(V) (Wissa) oraz fosforany (V), azotany (III) i azot","azotanowy (III) (Kanał Rudzki). Na podstawie wyni-"],"orient":"bottom","anchor":"start","frame":"group","baseline":"top","offset":0,"font":"Liberation Serif","fontSize":8.9,"fontWeight":"normal","color":"#222222","lineHeight":10.7}},
{"width":1,"height":18,"data":{"values":[]},"mark":"point"},
{"width":8,"height":18,"data":{"values":[]},"mark":"point"},
{"width":6,"height":18,"data":{"values":[]},"mark":"point"},
{"width":15,"height":18,"data":{"values":[]},"mark":"point"},
{"width":346,"height":18,"data":{"values":[]},"mark":"point","title":{"text":["ków analizy należy przypuszczać, że od 2004 roku","może nastąpić kolejny wzrost wartości niektórych pa-","rametrów eutrofizacyjnych skutkujący ustabilizowa-","niem się jakości wody w III klasie czystości (więk-","szość cieków) lub w przypadku Kanału Rudzkiego po-","garszający jego jakość do IV klasy czystości. Spodzie-","wany jest wzrost: azotu ogólnego (Wissa), azotanów","(III) i azotu azotanowego (III) (Biebrza, Ełk, Wissa),","azotanów (V) i azotu azotanowego (V) (Biebrza) oraz","fosforanów (V) (Kanał Rudzki)."],"orient":"bottom","anchor":"start","frame":"group","baseline":"top","dx":172,"offset":0,"font":"Liberation Serif","fontSize":8.9,"fontWeight":"normal","color":"#222222","lineHeight":10.7}},
{"width":13,"height":18,"data":{"values":[]},"mark":"point"},
{"width":1,"height":18,"data":{"values":[]},"mark":"point"},
{"width":2,"height":18,"data":{"values":[]},"mark":"point"},
{"width":20,"height":18,"data":{"values":[]},"mark":"point"},
{"width":3,"height":18,"data":{"values":[]},"mark":"point"},
{"width":20,"height":18,"data":{"values":[{}]},"mark":{"type":"rect","color":{"gradient":"linear","x1":0,"y1":0,"x2":0,"y2":1,"stops":[{"offset":0,"color":"#6c929b"},{"offset":1,"color":"#6b919a"}]}}},

{"width":20,"height":124,"data":{"values":[{}]},"mark":{"type":"rect","color":{"gradient":"linear","x1":0,"y1":0,"x2":0,"y2":1,"stops":[{"offset":0,"color":"#6b919a"},{"offset":1,"color":"#608993"}]}}},
{"width":3,"height":124,"data":{"values":[]},"mark":"point"},
{"width":22,"height":124,"data":{"values":[]},"mark":"point"},
{"width":1,"height":124,"data":{"values":[]},"mark":"point"},
{"width":10,"height":124,"data":{"values":[]},"mark":"point"},
{"width":6,"height":124,"data":{"values":[]},"mark":"point"},
{"width":360,"height":124,"data":{"values":[]},"mark":"point"},
{"width":8,"height":124,"data":{"values":[]},"mark":"point"},
{"width":1,"height":124,"data":{"values":[]},"mark":"point"},
{"width":2,"height":124,"data":{"values":[]},"mark":"point"},
{"width":2,"height":124,"data":{"values":[]},"mark":"point"},
{"width":5,"height":124,"data":{"values":[]},"mark":"point"},
{"width":83,"height":124,"data":{"values":[]},"mark":"point"},
{"width":2,"height":124,"data":{"values":[]},"mark":"point"},
{"width":1,"height":124,"data":{"values":[]},"mark":"point"},
{"width":8,"height":124,"data":{"values":[]},"mark":"point"},
{"width":6,"height":124,"data":{"values":[]},"mark":"point"},
{"width":15,"height":124,"data":{"values":[]},"mark":"point"},
{"width":346,"height":124,"data":{"values":[]},"mark":"point"},
{"width":13,"height":124,"data":{"values":[]},"mark":"point"},
{"width":1,"height":124,"data":{"values":[]},"mark":"point"},
{"width":2,"height":124,"data":{"values":[]},"mark":"point"},
{"width":20,"height":124,"data":{"values":[]},"mark":"point"},
{"width":3,"height":124,"data":{"values":[]},"mark":"point"},
{"width":20,"height":124,"data":{"values":[{}]},"mark":{"type":"rect","color":{"gradient":"linear","x1":0,"y1":0,"x2":0,"y2":1,"stops":[{"offset":0,"color":"#6b919a"},{"offset":1,"color":"#608993"}]}}},

{"width":20,"height":1,"data":{"values":[]},"mark":"point","view":{"fill":"#608993"}},
{"width":3,"height":1,"data":{"values":[]},"mark":"point"},
{"width":22,"height":1,"data":{"values":[]},"mark":"point","view":{"fill":"#bbbbbb"},"title":{"text":"98","anchor":"start","frame":"group","dx":9,"offset":1,"fontSize":10,"fontWeight":"bold","color":"#111111"}},
{"width":1,"height":1,"data":{"values":[]},"mark":"point","view":{"fill":"#bbbbbb"}},
{"width":10,"height":1,"data":{"values":[]},"mark":"point","view":{"fill":"#bbbbbb"}},
{"width":6,"height":1,"data":{"values":[]},"mark":"point","view":{"fill":"#bbbbbb"}},
{"width":360,"height":1,"data":{"values":[]},"mark":"point","view":{"fill":"#bbbbbb"}},
{"width":8,"height":1,"data":{"values":[]},"mark":"point","view":{"fill":"#bbbbbb"}},
{"width":1,"height":1,"data":{"values":[]},"mark":"point","view":{"fill":"#bbbbbb"}},
{"width":2,"height":1,"data":{"values":[]},"mark":"point","view":{"fill":"#bbbbbb"}},
{"width":2,"height":1,"data":{"values":[]},"mark":"point","view":{"fill":"#bbbbbb"}},
{"width":5,"height":1,"data":{"values":[]},"mark":"point"},
{"width":83,"height":1,"data":{"values":[]},"mark":"point"},
{"width":2,"height":1,"data":{"values":[]},"mark":"point"},
{"width":1,"height":1,"data":{"values":[]},"mark":"point","view":{"fill":"#bbbbbb"}},
{"width":8,"height":1,"data":{"values":[]},"mark":"point","view":{"fill":"#bbbbbb"}},
{"width":6,"height":1,"data":{"values":[]},"mark":"point","view":{"fill":"#bbbbbb"}},
{"width":15,"height":1,"data":{"values":[]},"mark":"point","view":{"fill":"#bbbbbb"}},
{"width":346,"height":1,"data":{"values":[]},"mark":"point","view":{"fill":"#bbbbbb"}},
{"width":13,"height":1,"data":{"values":[]},"mark":"point","view":{"fill":"#bbbbbb"}},
{"width":1,"height":1,"data":{"values":[]},"mark":"point","view":{"fill":"#bbbbbb"}},
{"width":2,"height":1,"data":{"values":[]},"mark":"point","view":{"fill":"#bbbbbb"}},
{"width":20,"height":1,"data":{"values":[]},"mark":"point","view":{"fill":"#bbbbbb"},"title":{"text":"99","anchor":"end","frame":"group","dx":-8,"offset":1,"fontSize":10,"fontWeight":"bold","color":"#111111"}},
{"width":3,"height":1,"data":{"values":[]},"mark":"point"},
{"width":20,"height":1,"data":{"values":[]},"mark":"point","view":{"fill":"#608993"}},

{"width":20,"height":31,"data":{"values":[{}]},"mark":{"type":"rect","color":{"gradient":"linear","x1":0,"y1":0,"x2":0,"y2":1,"stops":[{"offset":0,"color":"#608993"},{"offset":1,"color":"#5d8791"}]}}},
{"width":3,"height":31,"data":{"values":[]},"mark":"point"},
{"width":22,"height":31,"data":{"values":[]},"mark":"point"},
{"width":1,"height":31,"data":{"values":[]},"mark":"point"},
{"width":10,"height":31,"data":{"values":[]},"mark":"point"},
{"width":6,"height":31,"data":{"values":[]},"mark":"point"},
{"width":360,"height":31,"data":{"values":[]},"mark":"point"},
{"width":8,"height":31,"data":{"values":[]},"mark":"point"},
{"width":1,"height":31,"data":{"values":[]},"mark":"point"},
{"width":2,"height":31,"data":{"values":[]},"mark":"point"},
{"width":2,"height":31,"data":{"values":[]},"mark":"point"},
{"width":5,"height":31,"data":{"values":[]},"mark":"point"},
{"width":83,"height":31,"data":{"values":[]},"mark":"point"},
{"width":2,"height":31,"data":{"values":[]},"mark":"point"},
{"width":1,"height":31,"data":{"values":[]},"mark":"point"},
{"width":8,"height":31,"data":{"values":[]},"mark":"point"},
{"width":6,"height":31,"data":{"values":[]},"mark":"point"},
{"width":15,"height":31,"data":{"values":[]},"mark":"point"},
{"width":346,"height":31,"data":{"values":[]},"mark":"point"},
{"width":13,"height":31,"data":{"values":[]},"mark":"point"},
{"width":1,"height":31,"data":{"values":[]},"mark":"point"},
{"width":2,"height":31,"data":{"values":[]},"mark":"point"},
{"width":20,"height":31,"data":{"values":[]},"mark":"point"},
{"width":3,"height":31,"data":{"values":[]},"mark":"point"},
{"width":20,"height":31,"data":{"values":[{}]},"mark":{"type":"rect","color":{"gradient":"linear","x1":0,"y1":0,"x2":0,"y2":1,"stops":[{"offset":0,"color":"#608993"},{"offset":1,"color":"#5d8791"}]}}}
]
}
